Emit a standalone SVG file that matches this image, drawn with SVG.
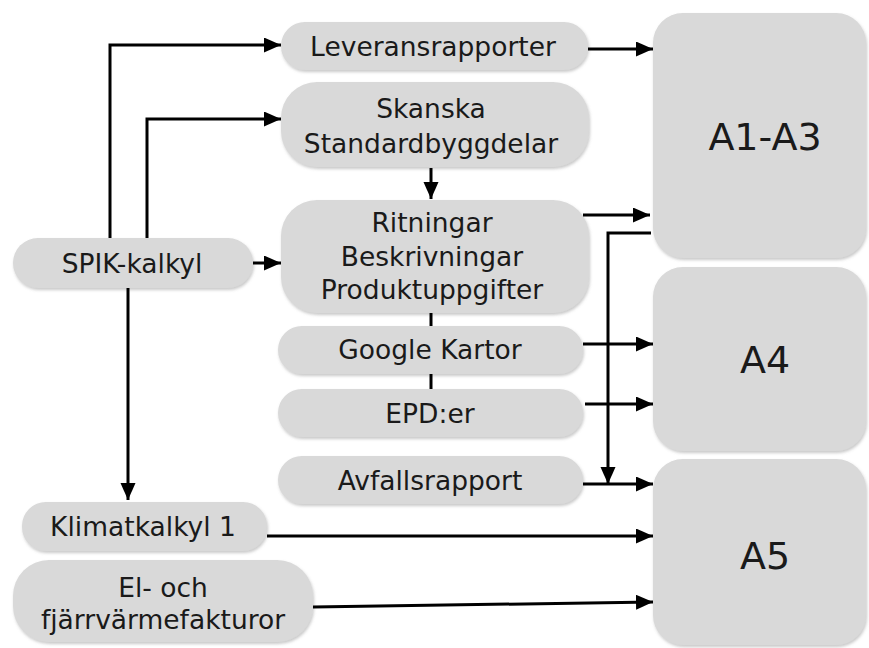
<svg xmlns="http://www.w3.org/2000/svg" width="869" height="648" viewBox="0 0 869 648">
<defs>
<filter id="sh" x="-10%" y="-10%" width="120%" height="130%">
<feDropShadow dx="1" dy="2" stdDeviation="1.5" flood-color="#888" flood-opacity="0.45"/>
</filter>
<marker id="ah" markerUnits="userSpaceOnUse" markerWidth="18" markerHeight="16" refX="17" refY="7.5" orient="auto">
<path d="M0,0 L17,7.5 L0,15 z" fill="#000"/>
</marker>
<style>
.box{fill:#d9d9d9;filter:url(#sh)}
.t{font-family:"DejaVu Sans","Liberation Sans",sans-serif;font-size:26.5px;fill:#1a1a1a;text-anchor:middle}
.big{font-size:38px}
.c{fill:none;stroke:#000;stroke-width:3}
.a{marker-end:url(#ah)}
</style>
</defs>
<rect width="869" height="648" fill="#fff"/>
<g id="a1a3"><rect class="box" x="653" y="13" width="213" height="245" rx="30"/><text class="t big" x="765" y="150">A1-A3</text></g>
<g id="a4"><rect class="box" x="653" y="267" width="213" height="184" rx="30"/><text class="t big" x="765" y="373">A4</text></g>
<g id="a5"><rect class="box" x="653" y="459" width="213" height="186" rx="30"/><text class="t big" x="765" y="569">A5</text></g>
<g id="leveransrapporter"><rect class="box" x="281" y="22" width="307" height="48" rx="24"/><text class="t" x="433" y="56">Leveransrapporter</text></g>
<g id="skanska"><rect class="box" x="281" y="82" width="308" height="85" rx="36"/><text class="t" x="431" y="118">Skanska</text><text class="t" x="431" y="153">Standardbyggdelar</text></g>
<g id="ritningar"><rect class="box" x="281" y="200" width="308" height="113" rx="36"/><text class="t" x="432" y="232">Ritningar</text><text class="t" x="432" y="266">Beskrivningar</text><text class="t" x="432" y="299">Produktuppgifter</text></g>
<g id="google"><rect class="box" x="278" y="326" width="305" height="48" rx="24"/><text class="t" x="430" y="359">Google Kartor</text></g>
<g id="epd"><rect class="box" x="278" y="389" width="305" height="48" rx="24"/><text class="t" x="430" y="423">EPD:er</text></g>
<g id="avfall"><rect class="box" x="278" y="456" width="305" height="48" rx="24"/><text class="t" x="430" y="490">Avfallsrapport</text></g>
<g id="spik"><rect class="box" x="13" y="238" width="240" height="50" rx="25"/><text class="t" x="132" y="273">SPIK-kalkyl</text></g>
<g id="klimat"><rect class="box" x="22" y="502" width="245" height="49" rx="24"/><text class="t" x="143" y="536">Klimatkalkyl 1</text></g>
<g id="el"><rect class="box" x="13" y="560" width="300" height="82" rx="36"/><text class="t" x="163" y="597">El- och</text><text class="t" x="163" y="629">fjärrvärmefakturor</text></g>
<g id="connectors">
<path class="c a" d="M253 263 H281"/>
<path class="c a" d="M110 238 V45 H281"/>
<path class="c a" d="M147 238 V119 H281"/>
<path class="c a" d="M128 288 V500"/>
<path class="c a" d="M431 168 V199"/>
<path class="c" d="M431 313 V326"/>
<path class="c" d="M431 374 V389"/>
<path class="c a" d="M588 49 H653"/>
<path class="c a" d="M583 215 H650"/>
<path class="c a" d="M651 233 H608 V484"/>
<path class="c a" d="M583 344 H653"/>
<path class="c a" d="M585 404 H653"/>
<path class="c a" d="M583 484 H653"/>
<path class="c a" d="M267 536 H653"/>
<path class="c a" d="M313 607 L653 602"/>
</g>
</svg>
